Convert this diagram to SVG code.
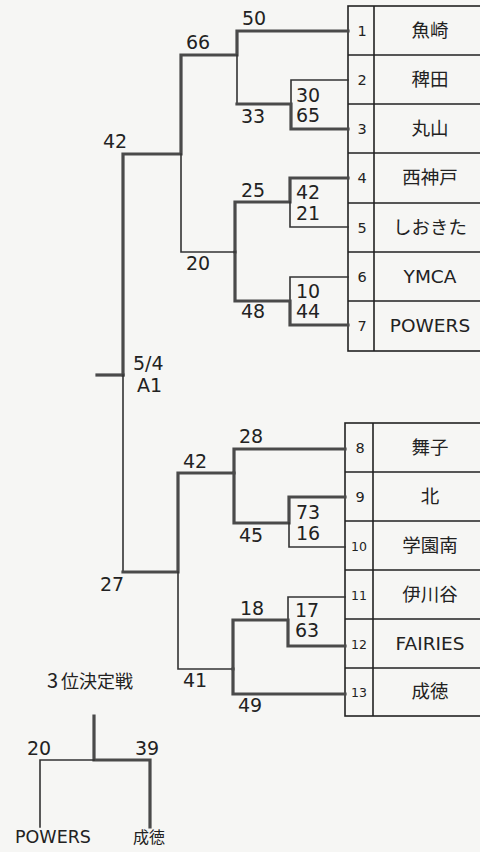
<svg xmlns="http://www.w3.org/2000/svg" width="480" height="852" viewBox="0 0 480 852">
<style>
.w{stroke:#4a4a4a;stroke-width:3.2;fill:none;stroke-linecap:square}
.l{stroke:#333;stroke-width:1.6;fill:none;stroke-linecap:square}
.grid{stroke:#222;stroke-width:1.6;fill:none}
.lab{font-family:"DejaVu Sans","Liberation Sans",sans-serif;font-size:19px;fill:#222}
.num{font-family:"DejaVu Sans","Liberation Sans",sans-serif;font-size:14.5px;fill:#222;text-anchor:middle}
.nums{font-size:12.5px}
.name{font-family:"DejaVu Sans","Noto Sans CJK JP",sans-serif;font-size:18.5px;fill:#222;text-anchor:middle}
.cap{font-family:"Noto Sans CJK JP","DejaVu Sans",sans-serif;font-size:18px;fill:#222}
</style>
<rect width="480" height="852" fill="#f6f6f4"/>

<g id="table-top">
<rect class="grid" x="348" y="6" width="142" height="345"/>
<path class="grid" d="M374 6V351M348 55H490M348 104H490M348 153H490M348 203H490M348 252H490M348 301H490"/>
</g>
<g id="table-bottom">
<rect class="grid" x="345" y="423" width="145" height="293"/>
<path class="grid" d="M373 423V716M345 472H490M345 521H490M345 570H490M345 619H490M345 668H490"/>
</g>

<g id="team-1"><text class="num" x="362" y="36">1</text><text class="name" x="430" y="37">魚崎</text></g>
<g id="team-2"><text class="num" x="362" y="85">2</text><text class="name" x="430" y="86">稗田</text></g>
<g id="team-3"><text class="num" x="362" y="134">3</text><text class="name" x="430" y="135">丸山</text></g>
<g id="team-4"><text class="num" x="362" y="183">4</text><text class="name" x="430" y="184">西神戸</text></g>
<g id="team-5"><text class="num" x="362" y="233">5</text><text class="name" x="430" y="234">しおきた</text></g>
<g id="team-6"><text class="num" x="362" y="282">6</text><text class="name" x="430" y="283">YMCA</text></g>
<g id="team-7"><text class="num" x="362" y="331">7</text><text class="name" x="430" y="332">POWERS</text></g>
<g id="team-8"><text class="num" x="360" y="453">8</text><text class="name" x="430" y="454">舞子</text></g>
<g id="team-9"><text class="num" x="360" y="502">9</text><text class="name" x="430" y="503">北</text></g>
<g id="team-10"><text class="num nums" x="359" y="551">10</text><text class="name" x="430" y="552">学園南</text></g>
<g id="team-11"><text class="num nums" x="359" y="600">11</text><text class="name" x="430" y="601">伊川谷</text></g>
<g id="team-12"><text class="num nums" x="359" y="649">12</text><text class="name" x="430" y="650">FAIRIES</text></g>
<g id="team-13"><text class="num nums" x="359" y="697">13</text><text class="name" x="430" y="698">成徳</text></g>

<g id="connectors">
<!-- top half -->
<path class="w" d="M348 31H237V55H181V154H123V375"/>
<path class="l" d="M237 55V104"/>
<path class="l" d="M348 80H291V104"/>
<path class="w" d="M348 129H291V104H237"/>
<path class="w" d="M348 178H290V202H235V252"/>
<path class="l" d="M348 227H290V202"/>
<path class="l" d="M348 277H290V301"/>
<path class="w" d="M348 325H290V301H235V252"/>
<path class="l" d="M235 252H181V154"/>
<path class="w" d="M97 375H123"/>
<path class="l" d="M123 375V572"/>
<!-- bottom half -->
<path class="w" d="M345 449H234V473H178V572H123"/>
<path class="w" d="M345 497H289V523H234V473"/>
<path class="l" d="M345 547H289V523"/>
<path class="l" d="M345 597H288V620"/>
<path class="w" d="M345 646H288V620H233V669"/>
<path class="l" d="M233 669H178V572"/>
<path class="w" d="M345 694H233V669"/>
<!-- third place -->
<path class="w" d="M94 716V760H150V827"/>
<path class="l" d="M94 760H40V827"/>
</g>

<g id="scores">
<text class="lab" x="242" y="25">50</text>
<text class="lab" x="186" y="49">66</text>
<text class="lab" x="296" y="102">30</text>
<text class="lab" x="296" y="122">65</text>
<text class="lab" x="241" y="123">33</text>
<text class="lab" x="103" y="148">42</text>
<text class="lab" x="241" y="197">25</text>
<text class="lab" x="296" y="199">42</text>
<text class="lab" x="296" y="220">21</text>
<text class="lab" x="186" y="270">20</text>
<text class="lab" x="296" y="298">10</text>
<text class="lab" x="296" y="318">44</text>
<text class="lab" x="241" y="318">48</text>
<text class="lab" x="133" y="370">5/4</text>
<text class="lab" x="137" y="392">A1</text>
<text class="lab" x="239" y="443">28</text>
<text class="lab" x="183" y="468">42</text>
<text class="lab" x="296" y="519">73</text>
<text class="lab" x="296" y="540">16</text>
<text class="lab" x="239" y="542">45</text>
<text class="lab" x="100" y="591">27</text>
<text class="lab" x="240" y="615">18</text>
<text class="lab" x="295" y="617">17</text>
<text class="lab" x="295" y="637">63</text>
<text class="lab" x="183" y="687">41</text>
<text class="lab" x="238" y="712">49</text>
</g>

<g id="third-place">
<text class="cap" x="47" y="688"><tspan style="font-size:20px">3</tspan><tspan dx="3">位決定戦</tspan></text>
<text class="lab" x="27" y="755">20</text>
<text class="lab" x="135" y="755">39</text>
<text class="name" x="53" y="843" style="font-size:17.5px">POWERS</text>
<text class="cap" x="133" y="843" style="font-size:16px">成徳</text>
</g>
</svg>
